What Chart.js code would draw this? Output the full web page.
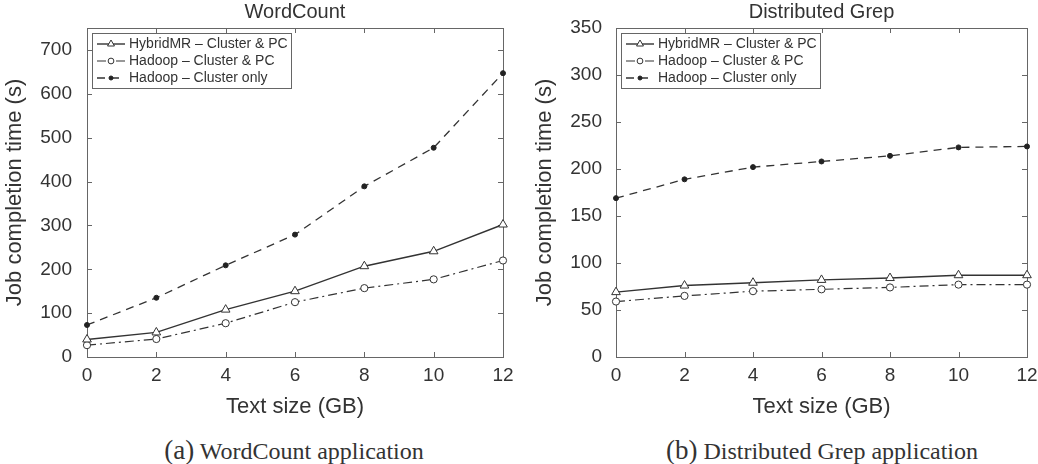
<!DOCTYPE html>
<html lang="en">
<head>
  <meta charset="UTF-8">
  <title>HybridMR vs Hadoop job completion time</title>
  <script src="https://cdn.jsdelivr.net/npm/chart.js"></script>
  <style>
    body { margin: 0; background: #fff; width: 1038px; height: 464px; position: relative; overflow: hidden; }
    .panel { position: absolute; top: 0; width: 519px; height: 430px; }
    .caption {
      position: absolute; top: 436px; line-height: 28px; transform: translateX(-50%);
      font-family: "Liberation Serif", "DejaVu Serif", serif; font-size: 24px; color: #333; white-space: nowrap;
    }
    .caption span { font-size: 27px; }
  </style>
</head>
<body>
  <div class="panel" style="left:0"><canvas id="wordcount" width="519" height="430"></canvas></div>
  <div class="panel" style="left:519px"><canvas id="grep" width="519" height="430"></canvas></div>
  <div class="caption" style="left:294px"><span>(a)</span> WordCount application</div>
  <div class="caption" style="left:822px"><span>(b)</span> Distributed Grep application</div>

  <script>
    // x axis: text size in GB
    const sizesGB = [0, 2, 4, 6, 8, 10, 12];
    const wordCountTicks = [0, 100, 200, 300, 400, 500, 600, 700];
    const grepTicks = [0, 50, 100, 150, 200, 250, 300, 350];

    const seriesNames = ['HybridMR – Cluster & PC', 'Hadoop – Cluster & PC', 'Hadoop – Cluster only'];

    // WordCount (s)
    const wcHybridMR = [40, 56, 108, 150, 207, 241, 302];
    const wcHadoopPC = [27, 41, 77, 125, 157, 177, 220];
    const wcClusterOnly = [73, 135, 209, 279, 389, 477, 647];

    // Distributed Grep (s)
    const grepHybridMR = [69, 76, 79, 82, 84, 87, 87];
    const grepHadoopPC = [59, 65, 70, 72, 74, 77, 77];
    const grepClusterOnly = [169, 189, 202, 208, 214, 223, 224];

    const INK = '#333';
    const FRAME = '#666';
    Chart.defaults.font.family = '"Liberation Sans", Arial, sans-serif';
    Chart.defaults.color = INK;

    function points(ys) {
      return sizesGB.map((x, i) => ({ x: x, y: ys[i] }));
    }

    function makeDatasets(hybrid, hadoopPC, clusterOnly) {
      return [
        { label: seriesNames[0], data: points(hybrid), borderColor: INK, borderWidth: 1.4, borderDash: [],
          pointStyle: 'triangle', pointRadius: 5, pointBackgroundColor: '#fff', pointBorderColor: INK, pointBorderWidth: 1 },
        { label: seriesNames[1], data: points(hadoopPC), borderColor: INK, borderWidth: 1.2, borderDash: [9, 4, 2, 4],
          pointStyle: 'circle', pointRadius: 3.6, pointBackgroundColor: '#fff', pointBorderColor: INK, pointBorderWidth: 1 },
        { label: seriesNames[2], data: points(clusterOnly), borderColor: INK, borderWidth: 1.3, borderDash: [8, 6],
          pointStyle: 'circle', pointRadius: 2.5, pointBackgroundColor: '#222', pointBorderColor: '#222', pointBorderWidth: 1 }
      ];
    }

    // box around the plot plus matlab style inward ticks
    const framePlugin = {
      id: 'frame',
      beforeDatasetsDraw(chart) {
        const { ctx, chartArea: a, scales: { x, y } } = chart;
        ctx.save();
        ctx.strokeStyle = FRAME;
        ctx.lineWidth = 1;
        ctx.strokeRect(Math.round(a.left) + 0.5, Math.round(a.top) + 0.5, Math.round(a.width), Math.round(a.height));
        ctx.beginPath();
        x.ticks.forEach(t => {
          const px = Math.round(x.getPixelForValue(t.value)) + 0.5;
          ctx.moveTo(px, a.bottom); ctx.lineTo(px, a.bottom - 5);
          ctx.moveTo(px, a.top); ctx.lineTo(px, a.top + 5);
        });
        y.ticks.forEach(t => {
          const py = Math.round(y.getPixelForValue(t.value)) + 0.5;
          ctx.moveTo(a.left, py); ctx.lineTo(a.left + 5, py);
          ctx.moveTo(a.right, py); ctx.lineTo(a.right - 5, py);
        });
        ctx.stroke();
        ctx.restore();
      }
    };

    // legend box inside the top-left corner of the plot
    const boxLegend = {
      id: 'boxLegend',
      afterDatasetsDraw(chart) {
        const { ctx, chartArea: a } = chart;
        const bx = Math.round(a.left) + 5, by = Math.round(a.top) + 5;
        ctx.save();
        ctx.fillStyle = '#fff';
        ctx.fillRect(bx, by, 199, 55);
        ctx.strokeStyle = FRAME;
        ctx.lineWidth = 1;
        ctx.strokeRect(bx + 0.5, by + 0.5, 199, 55);
        chart.data.datasets.forEach((ds, i) => {
          const ly = by + 11 + i * 17;
          ctx.strokeStyle = ds.borderColor;
          ctx.lineWidth = ds.borderWidth;
          ctx.setLineDash(ds.borderDash);
          ctx.beginPath();
          ctx.moveTo(bx + 5, ly); ctx.lineTo(bx + 33, ly);
          ctx.stroke();
          ctx.setLineDash([]);
          ctx.fillStyle = ds.pointBackgroundColor;
          ctx.strokeStyle = ds.pointBorderColor;
          ctx.lineWidth = 1;
          Chart.helpers.drawPoint(ctx, { pointStyle: ds.pointStyle, rotation: 0, radius: ds.pointRadius * 0.8, borderWidth: 1 }, bx + 19, ly);
          ctx.fillStyle = INK;
          ctx.font = '14px "Liberation Sans", Arial, sans-serif';
          ctx.textBaseline = 'middle';
          ctx.fillText(ds.label, bx + 37, ly);
        });
        ctx.restore();
      }
    };

    function makeChart(id, title, datasets, yMax, yTicks, p) {
      return new Chart(document.getElementById(id), {
        type: 'line',
        data: { datasets: datasets },
        options: {
          responsive: false,
          animation: false,
          devicePixelRatio: 1,
          layout: { padding: { left: 0, right: p.right, top: 0, bottom: 0 } },
          datasets: { line: { clip: false, tension: 0, fill: false } },
          plugins: {
            legend: { display: false },
            tooltip: { enabled: false },
            title: {
              display: true, text: title, fullSize: false, color: INK,
              font: { size: 20, weight: 'normal' }, padding: { top: 0, bottom: 4 }
            }
          },
          scales: {
            x: {
              type: 'linear', min: 0, max: 12,
              afterBuildTicks: s => { s.ticks = sizesGB.map(v => ({ value: v })); },
              afterFit: s => { s.height = 73; },
              grid: { display: false },
              border: { display: false },
              ticks: { color: INK, font: { size: 19 }, padding: -1, maxRotation: 0, autoSkip: false },
              title: { display: true, text: 'Text size (GB)', color: INK, font: { size: 22 }, padding: { top: 0, bottom: 10 } }
            },
            y: {
              min: 0, max: yMax,
              afterBuildTicks: s => { s.ticks = yTicks.map(v => ({ value: v })); },
              afterFit: s => { s.width = p.yWidth; },
              grid: { display: false },
              border: { display: false },
              ticks: { color: INK, font: { size: 19 }, padding: p.tickPad },
              title: { display: true, text: 'Job completion time (s)', color: INK, font: { size: 22 }, padding: { top: p.titlePad, bottom: 0 } }
            }
          }
        },
        plugins: [framePlugin, boxLegend]
      });
    }

    makeChart('wordcount', 'WordCount', makeDatasets(wcHybridMR, wcHadoopPC, wcClusterOnly), 750, wordCountTicks,
      { right: 16, yWidth: 87, tickPad: 7, titlePad: 2 });
    makeChart('grep', 'Distributed Grep', makeDatasets(grepHybridMR, grepHadoopPC, grepClusterOnly), 350, grepTicks,
      { right: 11, yWidth: 97, tickPad: 6, titlePad: 13 });
  </script>
</body>
</html>
